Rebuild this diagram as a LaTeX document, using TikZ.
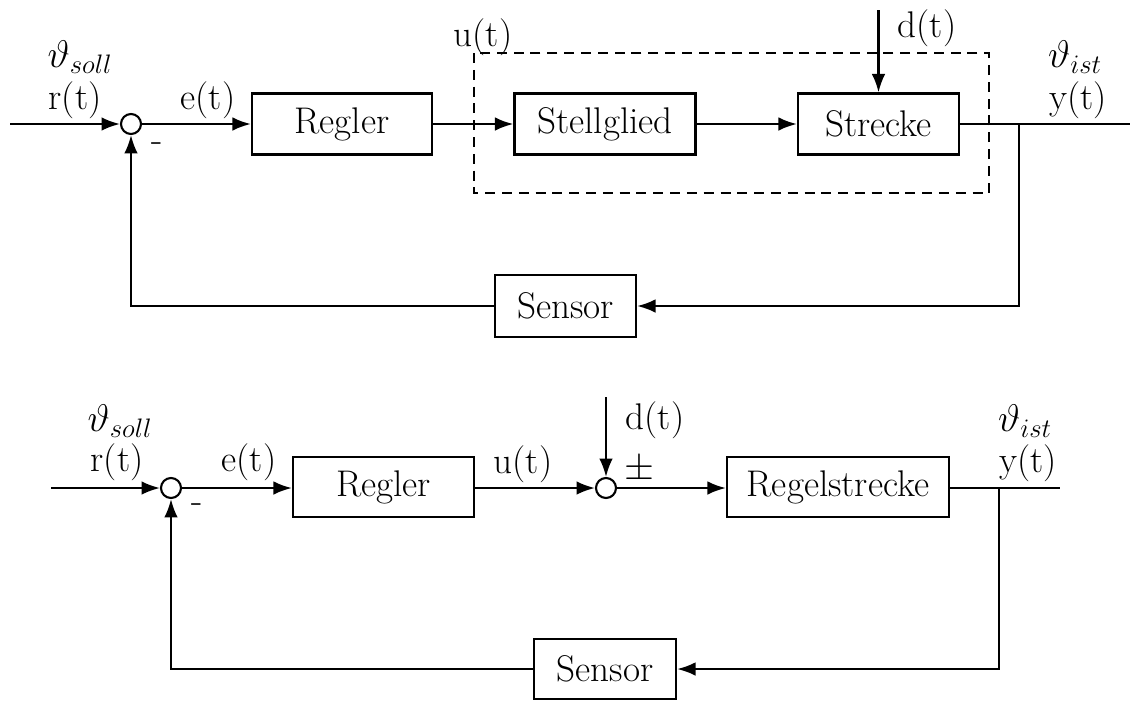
\documentclass[tikz,border=0pt]{standalone}
\usepackage{graphicx}
\usetikzlibrary{arrows.meta}
\tikzset{
  blk/.style={draw, line width=1.6pt, inner sep=0pt, fill=white},
  sumc/.style={draw, circle, line width=1.5pt, minimum size=0.5cm, inner sep=0pt, fill=white},
  lbl/.style={inner sep=0pt},
  arr/.style={-{Latex[length=0.46cm,width=0.34cm]}},
}
\newcommand{\mytxt}[1]{\scalebox{1.1}{#1}}
\begin{document}
\begin{tikzpicture}[x=0.025cm, y=-0.025cm, font=\fontsize{24}{28}\selectfont, line width=1.6pt]
\useasboundingbox (0,0) rectangle (1130,700);

% ---------------- top diagram ----------------
\coordinate (in1) at (10,124);
\node[sumc] (s1) at (131,124) {};
\node[blk, minimum width=4.5cm, minimum height=1.525cm] (reg1) at (342,124) {\mytxt{Regler}};
\node[blk, minimum width=4.525cm, minimum height=1.525cm] (stell) at (605,124) {\mytxt{Stellglied}};
\node[blk, minimum width=4.025cm, minimum height=1.525cm] (str) at (878.5,124) {\mytxt{Strecke}};
\coordinate (b1) at (1019,124);
\coordinate (out1) at (1130,124);
\node[blk, minimum width=3.525cm, minimum height=1.55cm] (sen1) at (565.5,306) {\mytxt{Sensor}};
\coordinate (d1) at (878.5,10);

\draw[dash pattern=on 0.25cm off 0.17cm, line width=1.4pt] (474,53) rectangle (989,193);

\draw[arr] (in1) -- (s1);
\draw[arr] (s1) -- (reg1);
\draw[arr] (reg1) -- (stell);
\draw[arr] (stell) -- (str);
\draw (str) -- (out1);
\draw[arr] (b1) |- (sen1);
\draw[arr] (sen1) -| (s1);
\draw[arr] (d1) -- (str);

\node[lbl] (th1) at (80,57) {\mytxt{$\vartheta_{soll}$}};
\node[lbl] (r1) at (75,100) {\mytxt{r(t)}};
\node[lbl] (e1) at (208,100) {\mytxt{e(t)}};
\node[lbl] (m1) at (157,147) {\mytxt{-}};
\node[lbl] (u1) at (483,37) {\mytxt{u(t)}};
\node[lbl] (dl1) at (927,28) {\mytxt{d(t)}};
\node[lbl] (ti1) at (1075,57) {\mytxt{$\vartheta_{ist}$}};
\node[lbl] (y1) at (1078,100) {\mytxt{y(t)}};

% ---------------- bottom diagram ----------------
\coordinate (in2) at (51,488);
\node[sumc] (s2) at (171,488) {};
\node[blk, minimum width=4.525cm, minimum height=1.5cm] (reg2) at (383.5,487) {\mytxt{Regler}};
\node[sumc] (s3) at (606,488) {};
\node[blk, minimum width=5.55cm, minimum height=1.5cm] (rs) at (838,487) {\mytxt{Regelstrecke}};
\coordinate (b2) at (999,488);
\coordinate (out2) at (1060,488);
\node[blk, minimum width=3.55cm, minimum height=1.5cm] (sen2) at (605,669) {\mytxt{Sensor}};
\coordinate (d2) at (606,397);

\draw[arr] (in2) -- (s2);
\draw[arr] (s2) -- (reg2.west |- s2);
\draw[arr] (reg2.east |- s3) -- (s3);
\draw[arr] (s3) -- (rs.west |- s3);
\draw (rs.east |- b2) -- (out2);
\draw[arr] (b2) |- (sen2);
\draw[arr] (sen2) -| (s2);
\draw[arr] (d2) -- (s3);

\node[lbl] (th2) at (120,421) {\mytxt{$\vartheta_{soll}$}};
\node[lbl] (r2) at (117,462) {\mytxt{r(t)}};
\node[lbl] (e2) at (249,462) {\mytxt{e(t)}};
\node[lbl] (m2) at (197,508) {\mytxt{-}};
\node[lbl] (u2) at (523,464) {\mytxt{u(t)}};
\node[lbl] (dl2) at (655,420) {\mytxt{d(t)}};
\node[lbl] (pm) at (639,470) {\mytxt{$\pm$}};
\node[lbl] (ti2) at (1025,421) {\mytxt{$\vartheta_{ist}$}};
\node[lbl] (y2) at (1028,463) {\mytxt{y(t)}};
\end{tikzpicture}
\end{document}
